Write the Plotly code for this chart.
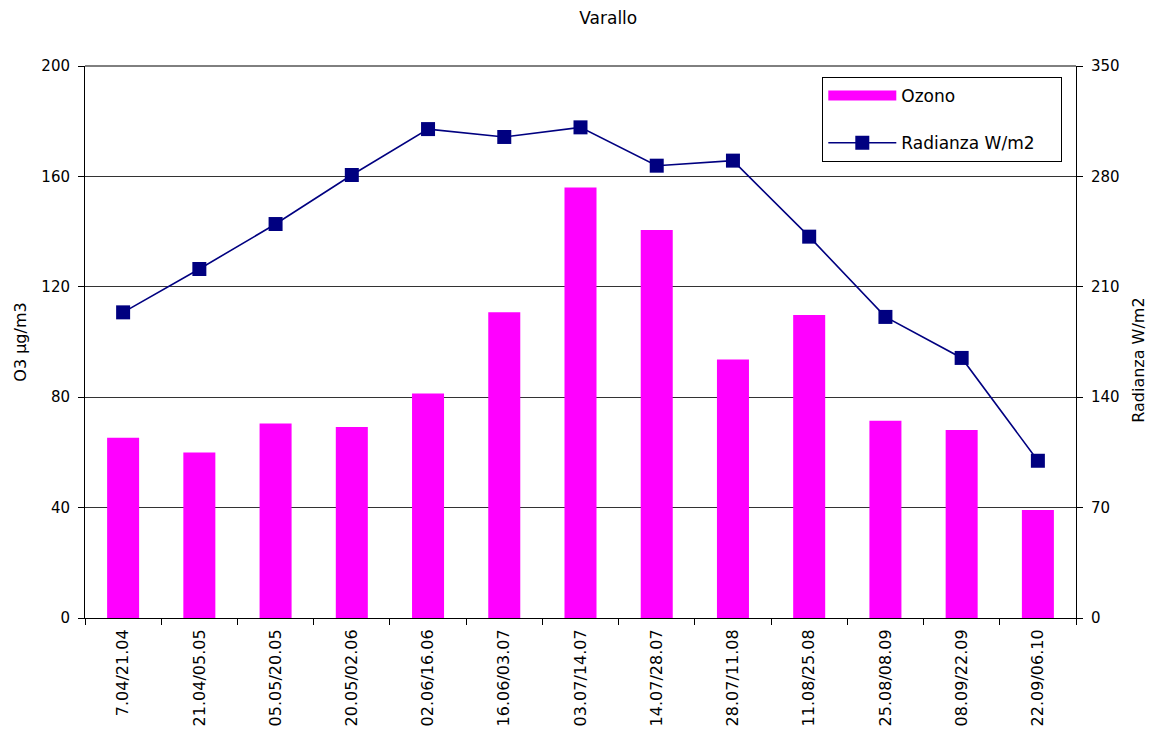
import plotly.graph_objects as go

periods = ["7.04/21.04", "21.04/05.05", "05.05/20.05", "20.05/02.06", "02.06/16.06",
           "16.06/03.07", "03.07/14.07", "14.07/28.07", "28.07/11.08", "11.08/25.08",
           "25.08/08.09", "08.09/22.09", "22.09/06.10"]
ozono = [65.3, 60.0, 70.5, 69.2, 81.3, 110.8, 156.0, 140.6, 93.7, 109.8, 71.5, 68.1, 39.1]
radianza = [193.8, 221.3, 249.8, 280.9, 310.0, 305.0, 311.1, 286.8, 290.0, 241.8, 190.9, 164.9, 99.7]

FONT = "DejaVu Sans"
MAGENTA = "#FF00FF"
NAVY = "#000080"
PAD = "\u00a0" * 4

fig = go.Figure()
fig.add_trace(go.Bar(
    x=periods, y=ozono, name="Ozono",
    marker=dict(color=MAGENTA, line=dict(width=0)),
    showlegend=False,
))
# legend entry for the bars, drawn as a wide flat swatch
fig.add_trace(go.Scatter(
    x=[None], y=[None], name="Ozono", mode="lines",
    line=dict(color=MAGENTA, width=12),
    legendgroup="a", hoverinfo="skip",
))
fig.add_trace(go.Scatter(
    x=periods, y=radianza, name="Radianza W/m2" + PAD, yaxis="y2",
    mode="lines+markers",
    line=dict(color=NAVY, width=1.6),
    marker=dict(symbol="square", size=14, color=NAVY),
    legendgroup="b",
))

tick_font = dict(family=FONT, size=15, color="black")

fig.update_layout(
    width=1150, height=735,
    margin=dict(l=85, r=74, t=66, b=117),
    paper_bgcolor="white", plot_bgcolor="white",
    font=dict(family=FONT, size=15, color="black"),
    title=dict(text="Varallo", xref="paper", x=0.528, xanchor="center",
               y=0.975, yanchor="middle",
               font=dict(family=FONT, size=17, color="black")),
    bargap=0.58,
    showlegend=True,
    legend=dict(x=0.744, y=0.98, xanchor="left", yanchor="top",
                bordercolor="black", borderwidth=1, bgcolor="white",
                font=dict(family=FONT, size=17), tracegroupgap=22,
                traceorder="grouped", itemwidth=68),
    xaxis=dict(
        type="category", range=[-0.5, 12.5], automargin=False,
        showline=True, linecolor="black", linewidth=1,
        ticks="outside", ticklen=6, tickcolor="black",
        tickson="boundaries", tickangle=-90, showgrid=False,
        tickfont=dict(family=FONT, size=16, color="black"), ticklabelstandoff=4,
    ),
    yaxis=dict(
        range=[0, 200], dtick=40, automargin=False,
        showline=True, linecolor="black", linewidth=1,
        ticks="outside", ticklen=6, tickcolor="black",
        showgrid=True, gridcolor="#333333", gridwidth=1, zeroline=False,
        title=dict(text="O3 µg/m3", font=dict(family=FONT, size=16), standoff=10),
        tickfont=tick_font, ticklabelstandoff=5,
    ),
    yaxis2=dict(
        range=[0, 350], dtick=70, overlaying="y", side="right", automargin=False,
        showline=True, linecolor="black", linewidth=1,
        ticks="outside", ticklen=6, tickcolor="black",
        showgrid=False, zeroline=False,
        tickfont=tick_font, ticklabelstandoff=5,
    ),
)

# right axis title
fig.add_annotation(text="Radianza W/m2", textangle=-90, showarrow=False,
                   xref="paper", yref="paper", x=1.0636, y=0.466,
                   xanchor="center", yanchor="middle",
                   font=dict(family=FONT, size=16, color="black"))

# top border of the plot frame
fig.add_shape(type="line", xref="paper", yref="paper", x0=0, x1=1, y0=1, y1=1,
              line=dict(color="black", width=1))

fig.write_html("out.html")
